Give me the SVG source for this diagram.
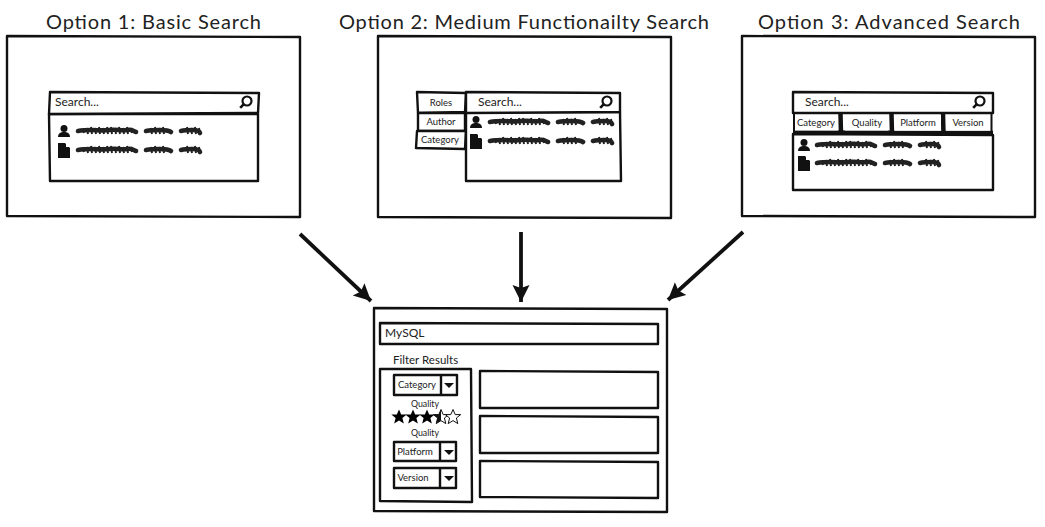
<svg xmlns="http://www.w3.org/2000/svg" xmlns:xlink="http://www.w3.org/1999/xlink" width="1045" height="527" viewBox="0 0 1045 527">
<style>
.b{fill:#fff;stroke:#111;stroke-width:2.400;stroke-linejoin:round}
.t{fill:#222;font-family:"Lato","Liberation Sans",sans-serif}
.h{font-size:20px}
.s{font-size:12px}
.x{font-size:9.500px}
.q{font-size:8.800px}
.c{text-anchor:middle}
.ar{fill:none;stroke:#111;stroke-width:3.800}
</style>
<defs>
<marker id="a" markerUnits="userSpaceOnUse" markerWidth="22" markerHeight="22" refX="18" refY="11" orient="auto"><path d="M1 2.500L18 11L1 19.500L4 11Z" fill="#111"/></marker>
<g id="sc"><path d="M3 5C8 4 12 4 17 4S27 5 34 4S47 5 52 4S58 5 61 6M71 5C76 4 80 4 85 4S93 4 96 6M106 5C110 4 115 4 118 4S124 4 125 7" fill="none" stroke="#222" stroke-width="4.600" stroke-linecap="round"/><path d="M8 3L9 7M12 2L13 8M16 1L17 8M20 2L21 8M24 1L25 8M28 2L29 8M32 1L33 8M36 1L37 8M40 2L41 8M44 1L45 8M48 2L49 8M52 1L53 8M56 2L57 7M76 2L77 8M80 1L81 8M84 2L85 8M88 1L89 8M112 1L113 8M116 2L117 8M120 1L121 8M124 2L125 9" stroke="#222" stroke-width="2"/></g>
<g id="pr"><circle cx="6" cy="3.500" r="3.500" fill="#111"/><path d="M0 12C0 8 3 7 6 7S12 8 12 12Z" fill="#111"/></g>
<g id="dc"><path d="M0 0H7L12 5V15H0Z" fill="#111"/><path d="M8 0L12 4H8Z" fill="#fff"/></g>
<g id="mg"><circle cx="0" cy="0" r="4.500" fill="none" stroke="#111" stroke-width="2.200"/><path d="M-3.200 3.200L-6.800 6.800" stroke="#111" stroke-width="2.600"/></g>
<g id="dn"><path d="M0 0H10L5 5Z" fill="#111"/></g>
<path id="st" d="M0-7.500L2.200-2.400L7.700-2.400L3.400 1L4.800 6.600L0 3.600L-4.800 6.600L-3.400 1L-7.700-2.400L-2.200-2.400Z"/>
</defs>

<g id="connectors">
<path class="ar" marker-end="url(#a)" d="M300 234L371 301"/>
<path class="ar" marker-end="url(#a)" d="M521 232L521 302"/>
<path class="ar" marker-end="url(#a)" d="M743 232L668 300"/>
</g>

<g id="option1">
<text class="t h" x="46" y="29" textLength="215">Option 1: Basic Search</text>
<path class="b" d="M7 36L300 37L300 217L7 216Z"/>
<path class="b" d="M49 114L258 114L258 181L50 181Z"/>
<path class="b" d="M50 92L259 93L258 113L49 114Z"/>
<text class="t s" x="55" y="106">Search...</text>
<use xlink:href="#mg" x="247" y="101"/>
<use xlink:href="#pr" x="58" y="125"/>
<use xlink:href="#sc" x="75" y="126"/>
<use xlink:href="#dc" x="58" y="143"/>
<use xlink:href="#sc" x="75" y="145"/>
</g>

<g id="option2">
<text class="t h" x="339" y="29" textLength="370">Option 2: Medium Functionailty Search</text>
<path class="b" d="M378 36L671 37L671 218L378 217Z"/>
<path class="b" d="M417 92L466 93L465 112L418 113Z"/>
<path class="b" d="M418 113L465 113L465 131L418 131Z"/>
<path class="b" d="M417 131L466 131L465 149L416 148Z"/>
<text class="t x c" x="441" y="106">Roles</text>
<text class="t x c" x="441" y="125">Author</text>
<text class="t x c" x="440" y="143">Category</text>
<path class="b" d="M466 112L620 112L621 181L466 181Z"/>
<path class="b" d="M466 92L620 93L620 112L466 113Z"/>
<text class="t s" x="478" y="106">Search...</text>
<use xlink:href="#mg" x="607" y="101"/>
<use xlink:href="#pr" x="470" y="116"/>
<use xlink:href="#sc" x="487" y="117"/>
<use xlink:href="#dc" x="470" y="134"/>
<use xlink:href="#sc" x="487" y="136"/>
</g>

<g id="option3">
<text class="t h" x="758" y="29" textLength="262">Option 3: Advanced Search</text>
<path class="b" d="M742 36L1035 37L1035 217L742 216Z"/>
<path class="b" d="M793 92L993 93L993 113L793 113Z"/>
<text class="t s" x="805" y="106">Search...</text>
<use xlink:href="#mg" x="980" y="101"/>
<path class="b" d="M793 134L993 135L993 190L793 190Z"/>
<path d="M840.500 114L841 134M891.500 114L892 134M943 114L943.500 134M793 132.500L993 133" stroke="#111" stroke-width="4.500"/>
<rect x="794" y="115" width="44" height="15.500" fill="#fff"/>
<rect x="845" y="115" width="43" height="15.500" fill="#fff"/>
<rect x="895" y="115" width="46" height="15.500" fill="#fff"/>
<rect x="946" y="115" width="45" height="15.500" fill="#fff"/>
<path d="M794 114V131M991.500 114V132" stroke="#111" stroke-width="2"/>
<text class="t x c" x="816" y="126">Category</text>
<text class="t x c" x="867" y="126">Quality</text>
<text class="t x c" x="918" y="126">Platform</text>
<text class="t x c" x="968" y="126">Version</text>
<use xlink:href="#pr" x="798" y="139"/>
<use xlink:href="#sc" x="814" y="140"/>
<use xlink:href="#dc" x="798" y="156"/>
<use xlink:href="#sc" x="814" y="158"/>
</g>

<g id="result">
<path class="b" d="M374 308L667 309L667 512L374 511Z"/>
<path class="b" d="M380 323L658 324L658 344L380 344Z"/>
<text class="t s" x="385" y="337">MySQL</text>
<text class="t" x="393" y="364" font-size="11.500">Filter Results</text>
<path class="b" d="M380 369L471 369L472 502L380 501Z"/>
<path class="b" d="M480 371L658 372L658 408L480 408Z"/>
<path class="b" d="M480 416L658 417L658 453L480 453Z"/>
<path class="b" d="M480 461L658 462L658 498L480 497Z"/>
<path class="b" d="M394 375L457 375L457 395L394 395Z"/>
<path d="M441 375V395" class="b"/>
<text class="t x c" x="417" y="388">Category</text>
<use xlink:href="#dn" x="444" y="383"/>
<text class="t q c" x="425" y="407">Quality</text>
<use xlink:href="#st" x="399" y="417"/>
<use xlink:href="#st" x="413" y="417"/>
<use xlink:href="#st" x="427" y="417"/>
<use xlink:href="#st" x="441" y="417" fill="#fff" stroke="#111"/>
<path d="M441 409.500L438.800 414.600L433.300 414.600L437.600 418L436.200 423.600L441 420.600Z" fill="#111"/>
<use xlink:href="#st" x="453" y="417" fill="#fff" stroke="#111"/>
<text class="t q c" x="425" y="436">Quality</text>
<path class="b" d="M394 442L456 442L456 461L394 461Z"/>
<path d="M440 442V461" class="b"/>
<text class="t x c" x="415" y="455">Platform</text>
<use xlink:href="#dn" x="444" y="450"/>
<path class="b" d="M394 468L456 468L456 488L394 488Z"/>
<path d="M440 468V488" class="b"/>
<text class="t x c" x="413" y="481">Version</text>
<use xlink:href="#dn" x="444" y="476"/>
</g>
</svg>
